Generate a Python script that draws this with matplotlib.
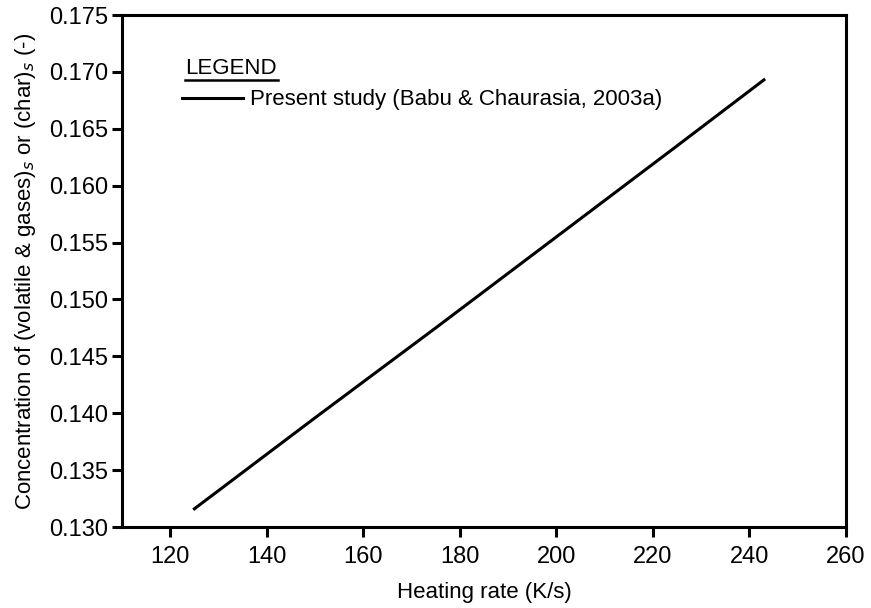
import matplotlib
matplotlib.use("Agg")
import matplotlib.pyplot as plt

plt.rcParams['font.family'] = ['Liberation Sans', 'DejaVu Sans']

heating_rate = [125, 150, 175, 200, 225, 243]
concentration = [0.1316, 0.1396, 0.1475, 0.1555, 0.1635, 0.1693]
series_label = "Present study (Babu & Chaurasia, 2003a)"
x_ticks = [120, 140, 160, 180, 200, 220, 240, 260]
y_ticks = [0.130, 0.135, 0.140, 0.145, 0.150, 0.155, 0.160, 0.165, 0.170, 0.175]

fig = plt.figure(figsize=(8.71, 6.08), dpi=100)
L, R, T, B = 122, 846, 15, 527
ax = fig.add_axes([L / 871, 1 - B / 608, (R - L) / 871, (B - T) / 608])

ax.plot(heating_rate, concentration, color='black', lw=2.2, label=series_label)

ax.set_xlim(110, 260)
ax.set_ylim(0.130, 0.175)
ax.set_xticks(x_ticks)
ax.set_yticks(y_ticks)
ax.set_yticklabels([f"{v:.3f}" for v in y_ticks])
ax.tick_params(axis='both', direction='out', length=7, width=2.2, labelsize=17, pad=3)
ax.tick_params(axis='x', pad=7)
for s in ax.spines.values():
    s.set_linewidth(2.2)

ax.set_xlabel("Heating rate (K/s)", fontsize=16, labelpad=10)
ax.set_ylabel("Concentration of (volatile & gases)$_s$ or (char)$_s$ (-)", fontsize=16, labelpad=8)

ax.text(0.087, 0.884, "LEGEND", transform=ax.transAxes, fontsize=16, ha='left', va='baseline')
ax.plot([0.087, 0.216], [0.874, 0.874], transform=ax.transAxes, color='black', lw=1.8)
ax.legend(loc='center left', bbox_to_anchor=(0.071, 0.834), frameon=False, fontsize=16,
          handlelength=2.75, handletextpad=0.3, borderaxespad=0)

fig.savefig("out.png", dpi=100)
